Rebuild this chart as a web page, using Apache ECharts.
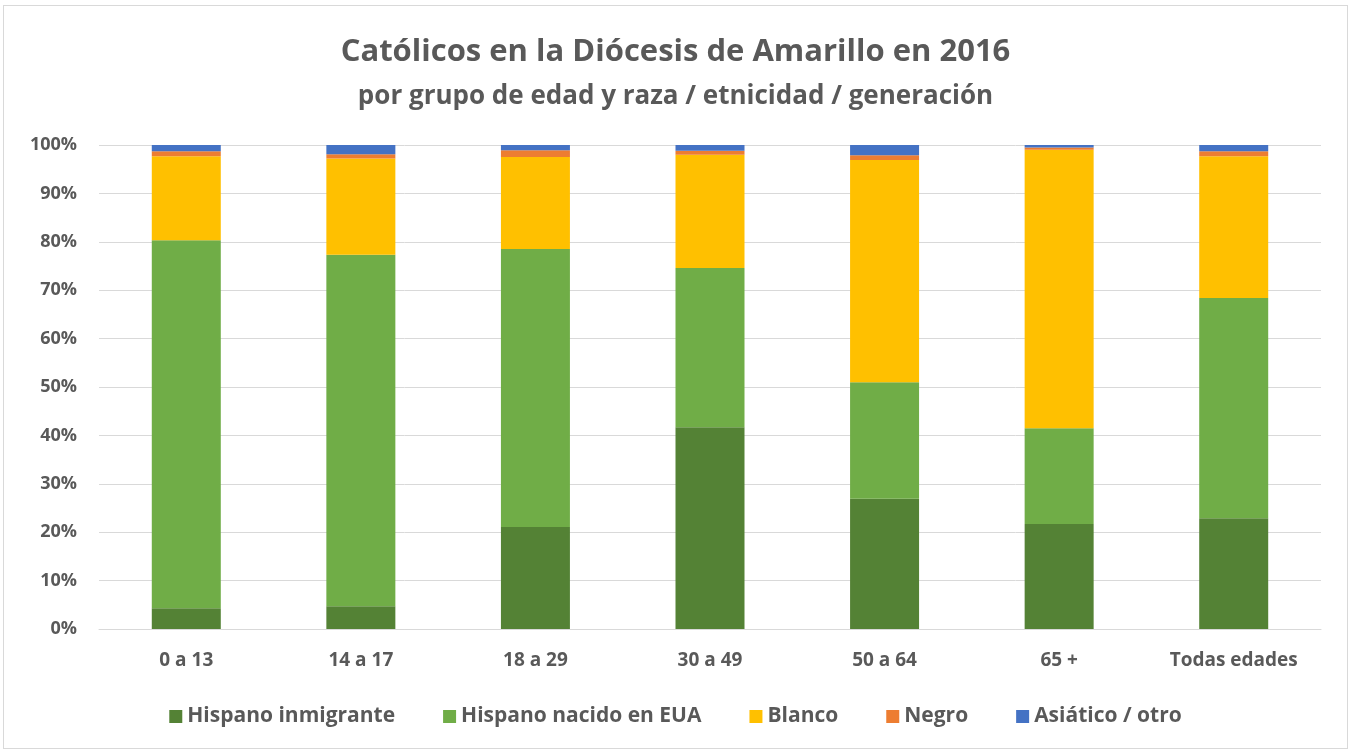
<!DOCTYPE html>
<html>
<head>
<meta charset="utf-8">
<script src="https://cdn.jsdelivr.net/npm/echarts@6/dist/echarts.min.js"></script>
<style>
  html, body { margin: 0; padding: 0; background: #fff; }
  #chart { width: 1351px; height: 751px; }
  .frame { position: absolute; left: 3px; top: 5px; width: 1343px; height: 742px; border: 1px solid #d9d9d9; pointer-events: none; }
</style>
</head>
<body>
<div id="chart"></div>
<div class="frame"></div>
<script>
// grupos de edad
const categories = ["0 a 13", "14 a 17", "18 a 29", "30 a 49", "50 a 64", "65 +", "Todas edades"];
// porcentajes por serie
const hispanoInmigrante = [4.3, 4.7, 21.1, 41.7, 26.9, 21.7, 22.9];
const hispanoNacido = [76.0, 72.6, 57.4, 32.9, 24.1, 19.8, 45.5];
const blanco = [17.4, 19.9, 19.0, 23.4, 45.9, 57.5, 29.3];
const negro = [1.0, 0.9, 1.4, 0.8, 1.0, 0.5, 1.0];
const asiatico = [1.3, 1.9, 1.1, 1.2, 2.1, 0.5, 1.3];

const seriesDefs = [
  { name: "Hispano inmigrante", data: hispanoInmigrante, color: "#548235" },
  { name: "Hispano nacido en EUA", data: hispanoNacido, color: "#70ad47" },
  { name: "Blanco", data: blanco, color: "#ffc000" },
  { name: "Negro", data: negro, color: "#ed7d31" },
  { name: "Asiático / otro", data: asiatico, color: "#4472c4" },
];

const font = "'Open Sans', 'Noto Sans', sans-serif";
const chart = echarts.init(document.getElementById("chart"));

const options = {
  animation: false,
  title: {
    text: "Católicos en la Diócesis de Amarillo en 2016",
    subtext: "por grupo de edad y raza / etnicidad / generación",
    left: "center",
    top: 32,
    itemGap: 16,
    textStyle: { fontFamily: font, fontSize: 31, fontWeight: "bold", color: "#595959" },
    subtextStyle: { fontFamily: font, fontSize: 26, fontWeight: "bold", color: "#595959" },
  },
  legend: {
    bottom: 19,
    left: "center",
    itemWidth: 13,
    itemHeight: 13,
    itemGap: 48,
    icon: "rect",
    textStyle: { fontFamily: font, fontSize: 21, fontWeight: "bold", color: "#595959" },
    data: seriesDefs.map((s) => s.name),
  },
  grid: { left: 99, right: 30, top: 145, bottom: 122 },
  xAxis: {
    type: "category",
    data: categories,
    axisLine: { lineStyle: { color: "#d9d9d9", width: 1 } },
    axisTick: { show: false },
    axisLabel: { fontFamily: font, fontSize: 19, fontWeight: "bold", color: "#595959", margin: 22 },
  },
  yAxis: {
    type: "value",
    min: 0,
    max: 100,
    interval: 10,
    axisLine: { show: false },
    axisTick: { show: false },
    splitLine: { lineStyle: { color: "#d9d9d9", width: 1 } },
    axisLabel: { formatter: "{value}%", fontFamily: font, fontSize: 18, fontWeight: "bold", color: "#595959", margin: 22 },
  },
  series: seriesDefs.map((s) => ({
    name: s.name,
    type: "bar",
    stack: "total",
    barWidth: 69,
    itemStyle: { color: s.color },
    data: s.data,
  })),
};

chart.setOption(options);
window.addEventListener("resize", () => {
  chart.resize();
});
</script>
</body>
</html>
